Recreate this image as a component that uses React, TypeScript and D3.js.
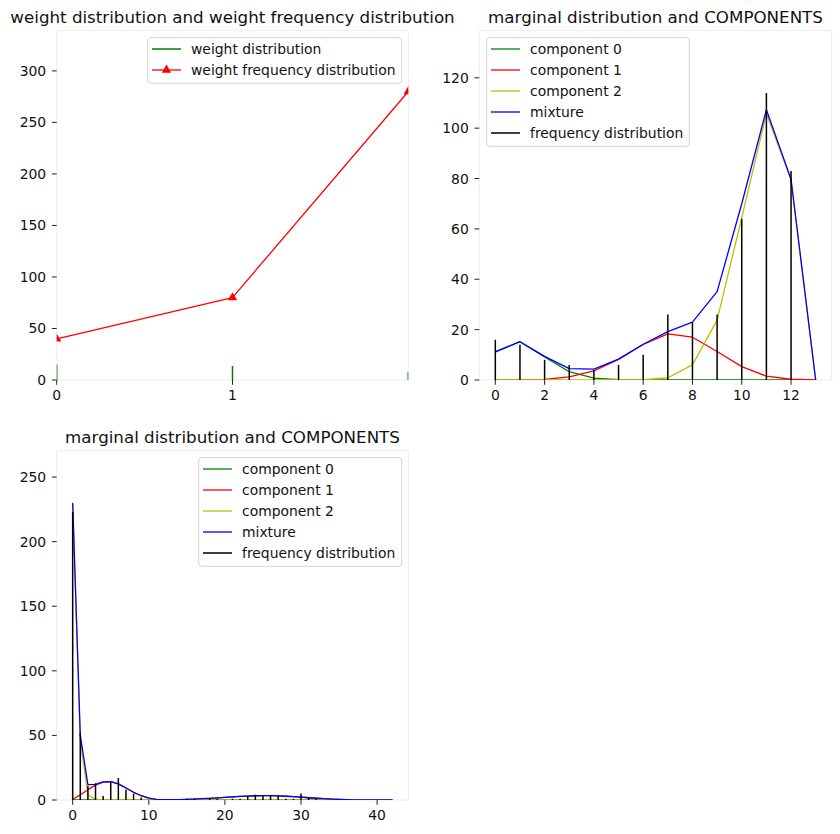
import * as d3 from 'd3';

const FONT = '"DejaVu Sans", sans-serif';

// weights of the three mixture components
const weightIdx = [0, 1, 2];
const weightDist = [15, 13.5, 8];
const weightFreq = [40, 80, 280];

// first marginal: values 0..13
const margAX = [0, 1, 2, 3, 4, 5, 6, 7, 8, 9, 10, 11, 12, 13];
const margAComp0 = [11.2, 15.2, 9.2, 3.3, 0.7, 0.1, 0, 0, 0, 0, 0, 0, 0, 0];
const margAComp1 = [0, 0, 0.2, 1.2, 3.6, 8.2, 14.1, 18.3, 17.0, 11.3, 5.3, 1.5, 0.3, 0];
const margAComp2 = [0, 0, 0, 0, 0, 0, 0.1, 0.9, 6.0, 23.8, 64.5, 105.8, 79.4, 0];
const margAMix = [11.2, 15.2, 9.4, 4.5, 4.3, 8.3, 14.2, 19.2, 23.0, 35.1, 70.0, 107.3, 79.7, 0];
const margAFreqX = [0, 1, 2, 3, 4, 5, 6, 7, 8, 9, 10, 11, 12];
const margAFreq = [16, 14, 8, 6, 4, 6, 10, 26, 23, 26, 64, 114, 83];

// second marginal: values 0..42
const margBX = [
  0, 1, 2, 3, 4, 5, 6, 7, 8, 9, 10, 11, 12, 13, 14, 15, 16, 17, 18, 19, 20, 21,
  22, 23, 24, 25, 26, 27, 28, 29, 30, 31, 32, 33, 34, 35, 36, 37, 38, 39, 40, 41, 42,
];
const margBComp0 = [
  0, 0, 0, 0, 0, 0, 0, 0, 0, 0, 0, 0, 0, 0.15, 0.3, 0.5, 0.75, 1.0, 1.3, 1.65, 2.0, 2.4,
  2.75, 3.05, 3.3, 3.4, 3.35, 3.2, 2.9, 2.55, 2.15, 1.75, 1.35, 1.0, 0.7, 0.45, 0.28, 0.16, 0.08, 0.04, 0.02, 0.01, 0,
];
const margBComp1 = [
  0.6, 4, 8, 11.5, 13.9, 14.2, 12.5, 9.3, 6.0, 3.3, 1.5, 0.55, 0.2, 0.05, 0.01, 0, 0, 0, 0, 0, 0, 0,
  0, 0, 0, 0, 0, 0, 0, 0, 0, 0, 0, 0, 0, 0, 0, 0, 0, 0, 0, 0, 0,
];
const margBComp2 = [
  229.4, 46, 3.9, 0.6, 0.1, 0, 0, 0, 0, 0, 0, 0, 0, 0, 0, 0, 0, 0, 0, 0, 0, 0,
  0, 0, 0, 0, 0, 0, 0, 0, 0, 0, 0, 0, 0, 0, 0, 0, 0, 0, 0, 0, 0,
];
const margBMix = [
  230, 50, 11.9, 12.1, 14.0, 14.2, 12.5, 9.3, 6.0, 3.3, 1.5, 0.55, 0.2, 0.2, 0.31, 0.5, 0.75, 1.0, 1.3, 1.65, 2.0, 2.4,
  2.75, 3.05, 3.3, 3.4, 3.35, 3.2, 2.9, 2.55, 2.15, 1.75, 1.35, 1.0, 0.7, 0.45, 0.28, 0.16, 0.08, 0.04, 0.02, 0.01, 0,
];
const margBFreq = [
  223, 52, 11, 13, 3, 14, 17, 8, 5, 2, 0, 0, 0, 0, 0, 1, 1, 0, 1, 1, 0, 1,
  1, 3, 4, 3, 3, 3, 1, 1, 5, 2, 1, 0, 0, 0, 0, 0, 0, 0, 0, 0, 0,
];

const yTicksA = [0, 50, 100, 150, 200, 250, 300];
const xTicksA = [0, 1];
const yTicksB = [0, 20, 40, 60, 80, 100, 120];
const xTicksB = [0, 2, 4, 6, 8, 10, 12];
const yTicksC = [0, 50, 100, 150, 200, 250];
const xTicksC = [0, 10, 20, 30, 40];

type Layer = {
  kind: 'line' | 'stem';
  name: string;
  color: string;
  xs: number[];
  values: number[];
  marker?: boolean;
};

type Box = { left: number; top: number; right: number; bottom: number };

interface PanelProps {
  id: string;
  box: Box;
  title: string;
  xDomain: [number, number];
  yDomain: [number, number];
  xTicks: number[];
  yTicks: number[];
  layers: Layer[];
  legend: { x: number; y: number; w: number };
}

const LINE_W = 1.3;
const STEM_W = 1.5;

function Panel({ id, box, title, xDomain, yDomain, xTicks, yTicks, layers, legend }: PanelProps) {
  const x = d3.scaleLinear().domain(xDomain).range([box.left, box.right]);
  const y = d3.scaleLinear().domain(yDomain).range([box.bottom, box.top]);
  const tri = d3.symbol().type(d3.symbolTriangle).size(38)() as string;
  const rowH = 21;

  return (
    <g>
      <defs>
        <clipPath id={id}>
          <rect x={box.left} y={box.top} width={box.right - box.left} height={box.bottom - box.top} />
        </clipPath>
      </defs>
      <rect
        x={box.left}
        y={box.top}
        width={box.right - box.left}
        height={box.bottom - box.top}
        fill="#fff"
        stroke="#ececec"
        strokeWidth={0.9}
      />

      <g clipPath={`url(#${id})`}>
        {layers.map((l, i) => {
          if (l.kind === 'stem') {
            return (
              <g key={i}>
                {l.xs.map((xv, j) => (
                  <line
                    key={j}
                    x1={x(xv)}
                    x2={x(xv)}
                    y1={y(0)}
                    y2={y(l.values[j])}
                    stroke={l.color}
                    strokeWidth={STEM_W}
                  />
                ))}
              </g>
            );
          }
          const pts = l.xs.map((xv, j) => [xv, l.values[j]] as [number, number]);
          const path = d3
            .line<[number, number]>()
            .x(d => x(d[0]))
            .y(d => y(d[1]))(pts) as string;
          return (
            <g key={i}>
              <path d={path} fill="none" stroke={l.color} strokeWidth={LINE_W} strokeLinejoin="round" />
              {l.marker &&
                pts.map((d, j) => (
                  <path key={j} d={tri} transform={`translate(${x(d[0])},${y(d[1])})`} fill={l.color} />
                ))}
            </g>
          );
        })}
      </g>

      {/* y axis */}
      {yTicks.map(t => (
        <g key={`y${t}`}>
          <line x1={box.left - 4.8} x2={box.left} y1={y(t)} y2={y(t)} stroke="#222" strokeWidth={1} />
          <text
            x={box.left - 10.5}
            y={y(t)}
            textAnchor="end"
            dominantBaseline="central"
            fontFamily={FONT}
            fontSize={13.9}
            fill="#111"
          >
            {t}
          </text>
        </g>
      ))}

      {/* x axis */}
      {xTicks.map(t => (
        <g key={`x${t}`}>
          <line x1={x(t)} x2={x(t)} y1={box.bottom} y2={box.bottom + 4.8} stroke="#222" strokeWidth={1} />
          <text
            x={x(t)}
            y={box.bottom + 14.5}
            textAnchor="middle"
            dominantBaseline="central"
            fontFamily={FONT}
            fontSize={13.9}
            fill="#111"
          >
            {t}
          </text>
        </g>
      ))}

      <text
        x={(box.left + box.right) / 2}
        y={box.top - 8}
        textAnchor="middle"
        fontFamily={FONT}
        fontSize={16.7}
        fill="#111"
      >
        {title}
      </text>

      {/* legend */}
      <g>
        <rect
          x={legend.x}
          y={legend.y}
          width={legend.w}
          height={layers.length * rowH + 3.6}
          rx={3}
          fill="#fff"
          fillOpacity={0.8}
          stroke="#d0d0d0"
          strokeWidth={0.9}
        />
        {layers.map((l, i) => {
          const cy = legend.y + 11.3 + i * rowH;
          return (
            <g key={i}>
              <line
                x1={legend.x + 4.3}
                x2={legend.x + 33.3}
                y1={cy}
                y2={cy}
                stroke={l.color}
                strokeWidth={l.kind === 'stem' ? STEM_W : LINE_W}
              />
              {l.marker && <path d={tri} transform={`translate(${legend.x + 18.8},${cy})`} fill={l.color} />}
              <text
                x={legend.x + 43.3}
                y={cy}
                dominantBaseline="central"
                fontFamily={FONT}
                fontSize={13.9}
                fill="#111"
              >
                {l.name}
              </text>
            </g>
          );
        })}
      </g>
    </g>
  );
}

export default function App() {
  const compLayers = (
    xs: number[],
    c0: number[],
    c1: number[],
    c2: number[],
    mix: number[],
    fx: number[],
    freq: number[]
  ): Layer[] => [
    { kind: 'line', name: 'component 0', color: '#008000', xs, values: c0 },
    { kind: 'line', name: 'component 1', color: '#ff0000', xs, values: c1 },
    { kind: 'line', name: 'component 2', color: '#bfbf00', xs, values: c2 },
    { kind: 'line', name: 'mixture', color: '#0000ff', xs, values: mix },
    { kind: 'stem', name: 'frequency distribution', color: '#000000', xs: fx, values: freq },
  ];

  return (
    <svg
      width={840}
      height={834}
      style={{ position: 'absolute', left: 0, top: 0, background: '#fff' }}
    >
      <rect width={840} height={834} fill="#fff" />
      <Panel
        id="clip-weight"
        box={{ left: 56.7, top: 30.7, right: 408.3, bottom: 380 }}
        title="weight distribution and weight frequency distribution"
        xDomain={[0, 2]}
        yDomain={[0, 339]}
        xTicks={xTicksA}
        yTicks={yTicksA}
        layers={[
          { kind: 'stem', name: 'weight distribution', color: '#008000', xs: weightIdx, values: weightDist },
          {
            kind: 'line',
            name: 'weight frequency distribution',
            color: '#ff0000',
            xs: weightIdx,
            values: weightFreq,
            marker: true,
          },
        ]}
        legend={{ x: 147.7, y: 37.7, w: 254 }}
      />
      <Panel
        id="clip-marg-a"
        box={{ left: 479.3, top: 30.7, right: 831.7, bottom: 380 }}
        title="marginal distribution and COMPONENTS"
        xDomain={[-0.65, 13.65]}
        yDomain={[0, 138.7]}
        xTicks={xTicksB}
        yTicks={yTicksB}
        layers={compLayers(margAX, margAComp0, margAComp1, margAComp2, margAMix, margAFreqX, margAFreq)}
        legend={{ x: 486.7, y: 37.7, w: 202.6 }}
      />
      <Panel
        id="clip-marg-b"
        box={{ left: 56.7, top: 450.7, right: 408.3, bottom: 800 }}
        title="marginal distribution and COMPONENTS"
        xDomain={[-2.1, 44.1]}
        yDomain={[0, 270.4]}
        xTicks={xTicksC}
        yTicks={yTicksC}
        layers={compLayers(margBX, margBComp0, margBComp1, margBComp2, margBMix, margBX, margBFreq)}
        legend={{ x: 198.7, y: 457.7, w: 203 }}
      />
    </svg>
  );
}
